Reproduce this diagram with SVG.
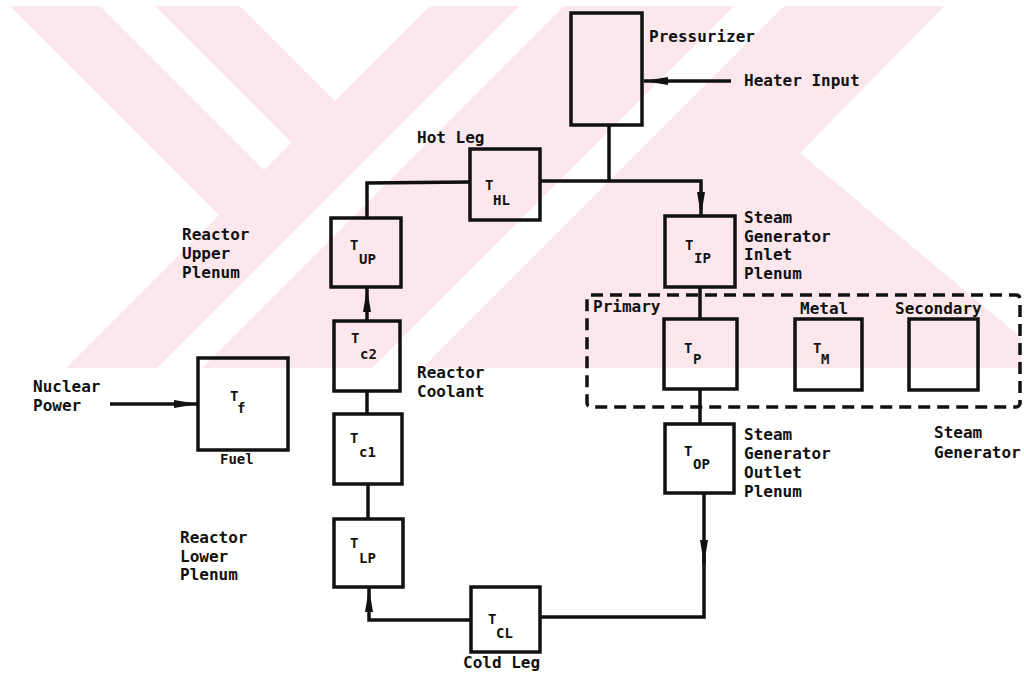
<svg xmlns="http://www.w3.org/2000/svg" width="1024" height="676" viewBox="0 0 1024 676">
<style>
.box{fill:none;stroke:#111;stroke-width:3.5;stroke-linejoin:miter}
.ln{fill:none;stroke:#111;stroke-width:3.5}
.lbl{font-family:"DejaVu Sans Mono","Liberation Mono",monospace;font-weight:bold;font-size:16px;fill:#111}
.sym{font-family:"DejaVu Sans Mono","Liberation Mono",monospace;font-weight:bold;font-size:14px;fill:#111}
.wm{fill:#fce8ec}
.wmw{fill:#ffffff}
</style>
<defs>
<clipPath id="wmclip"><rect x="10" y="6" width="1011" height="362"/></clipPath>
<marker id="ah" markerUnits="userSpaceOnUse" markerWidth="26" markerHeight="10" refX="24" refY="5" orient="auto">
<path d="M0,1 L24,5 L0,9 z" fill="#111"/>
</marker>
</defs>
<rect width="1024" height="676" fill="#ffffff"/>
<g id="watermark" clip-path="url(#wmclip)">
<rect class="wm" x="10" y="6" width="1011" height="362"/>
<polygon class="wmw" points="0,-4 219,215 66,368 0,368"/>
<polygon class="wmw" points="94,0 149,0 291.5,142.5 264,170"/>
<polygon class="wmw" points="234,0 436,0 335,101"/>
<polygon class="wmw" points="525,0 570,0 200,370 155,370"/>
<polygon class="wmw" points="740,0 790,0 420,370 370,370"/>
<polygon class="wmw" points="950,0 1030,0 1030,345 800,153"/>
</g>
<g id="connectors">
<path class="ln" d="M609,125 L609,181"/>
<path class="ln" d="M367,218 L367,183 L470,182"/>
<path class="ln" d="M540,181 L701,181 L701,216" marker-end="url(#ah)"/>
<path class="ln" d="M731,81 L644,81" marker-end="url(#ah)"/>
<path class="ln" d="M110,404 L198,404" marker-end="url(#ah)"/>
<path class="ln" d="M367,321 L367,288" marker-end="url(#ah)"/>
<path class="ln" d="M367,391 L367,414"/>
<path class="ln" d="M368,484 L368,519"/>
<path class="ln" d="M471,620 L369,620 L369,588" marker-end="url(#ah)"/>
<path class="ln" d="M700,287 L700,319"/>
<path class="ln" d="M700,389 L700,424"/>
<path class="ln" d="M704,493 L704,564" marker-end="url(#ah)"/>
<path class="ln" d="M704,556 L704,617 L540,617"/>
</g>
<g id="pressurizer">
<rect class="box" x="571" y="13" width="71" height="112"/>
<text class="lbl" x="649" y="42">Pressurizer</text>
</g>
<g id="heater-input"><text class="lbl" x="744" y="86">Heater Input</text></g>
<g id="hot-leg">
<rect class="box" x="470" y="149" width="70" height="71"/>
<text class="sym" x="485" y="190">T</text><text class="sym" x="493" y="205">HL</text>
<text class="lbl" x="417" y="143">Hot Leg</text>
</g>
<g id="upper-plenum">
<rect class="box" x="331" y="218" width="70" height="69"/>
<text class="sym" x="350" y="250">T</text><text class="sym" x="359" y="264">UP</text>
<text class="lbl" x="182" y="240">Reactor</text>
<text class="lbl" x="182" y="259">Upper</text>
<text class="lbl" x="182" y="278">Plenum</text>
</g>
<g id="coolant-2">
<rect class="box" x="334" y="321" width="66" height="70"/>
<text class="sym" x="351" y="343">T</text><text class="sym" x="360" y="359">c2</text>
<text class="lbl" x="417" y="378">Reactor</text>
<text class="lbl" x="417" y="397">Coolant</text>
</g>
<g id="coolant-1">
<rect class="box" x="334" y="414" width="68" height="70"/>
<text class="sym" x="350" y="443">T</text><text class="sym" x="359" y="457">c1</text>
</g>
<g id="lower-plenum">
<rect class="box" x="334" y="519" width="69" height="68"/>
<text class="sym" x="350" y="548">T</text><text class="sym" x="359" y="563">LP</text>
<text class="lbl" x="180" y="543">Reactor</text>
<text class="lbl" x="180" y="562">Lower</text>
<text class="lbl" x="180" y="580">Plenum</text>
</g>
<g id="fuel">
<rect class="box" x="198" y="358" width="90" height="92"/>
<text class="sym" x="230" y="401">T</text><text class="sym" x="237" y="413">f</text>
<text class="sym" x="220" y="464">Fuel</text>
</g>
<g id="nuclear-power">
<text class="lbl" x="33" y="392">Nuclear</text>
<text class="lbl" x="33" y="411">Power</text>
</g>
<g id="cold-leg">
<rect class="box" x="471" y="587" width="69" height="65"/>
<text class="sym" x="488" y="624">T</text><text class="sym" x="496" y="638">CL</text>
<text class="lbl" x="463" y="668">Cold Leg</text>
</g>
<g id="sg-inlet-plenum">
<rect class="box" x="665" y="216" width="70" height="71"/>
<text class="sym" x="685" y="250">T</text><text class="sym" x="694" y="263">IP</text>
<text class="lbl" x="744" y="223">Steam</text>
<text class="lbl" x="744" y="242">Generator</text>
<text class="lbl" x="744" y="260">Inlet</text>
<text class="lbl" x="744" y="279">Plenum</text>
</g>
<g id="steam-generator">
<rect x="587" y="295" width="433" height="112" rx="4" fill="none" stroke="#111" stroke-width="3.5" stroke-dasharray="12 7"/>
<text class="lbl" x="934" y="438">Steam</text>
<text class="lbl" x="934" y="458">Generator</text>
</g>
<g id="primary">
<rect class="box" x="664" y="319" width="73" height="70"/>
<text class="sym" x="684" y="353">T</text><text class="sym" x="693" y="364">P</text>
<text class="lbl" x="593" y="312">Primary</text>
</g>
<g id="metal">
<rect class="box" x="795" y="319" width="67" height="71"/>
<text class="sym" x="813" y="353">T</text><text class="sym" x="821" y="364">M</text>
<text class="lbl" x="800" y="314">Metal</text>
</g>
<g id="secondary">
<rect class="box" x="909" y="319" width="69" height="71"/>
<text class="lbl" x="895" y="314">Secondary</text>
</g>
<g id="sg-outlet-plenum">
<rect class="box" x="665" y="424" width="69" height="69"/>
<text class="sym" x="684" y="456">T</text><text class="sym" x="693" y="469">OP</text>
<text class="lbl" x="744" y="440">Steam</text>
<text class="lbl" x="744" y="459">Generator</text>
<text class="lbl" x="744" y="478">Outlet</text>
<text class="lbl" x="744" y="497">Plenum</text>
</g>
</svg>
